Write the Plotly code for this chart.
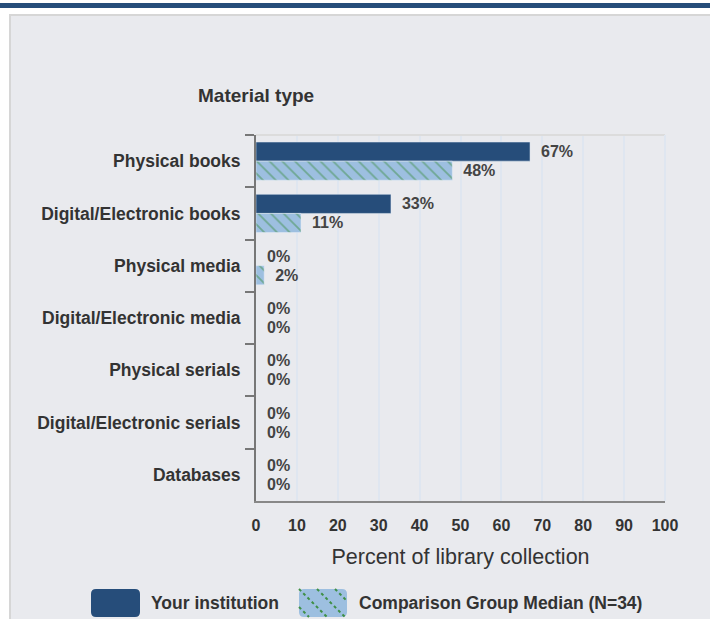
import plotly.graph_objects as go

# data
categories = [
    "Physical books",
    "Digital/Electronic books",
    "Physical media",
    "Digital/Electronic media",
    "Physical serials",
    "Digital/Electronic serials",
    "Databases",
]
your_institution = [67, 33, 0, 0, 0, 0, 0]
comparison_median = [48, 11, 2, 0, 0, 0, 0]
x_ticks = [0, 10, 20, 30, 40, 50, 60, 70, 80, 90, 100]

DARK = "#264d7a"
LIGHT = "#9dbfe0"
GREEN = "#3f8f45"
TEXT = "#333333"
FONT = "Liberation Sans, Arial, sans-serif"

W, H = 710, 619
L, R, T, B = 256, 45, 135, 118
PW, PH = W - L - R, H - T - B


def px(x):
    return (x - L) / PW


def py(y):
    return (H - B - y) / PH


fig = go.Figure()
fig.add_trace(go.Bar(
    y=categories, x=your_institution, orientation="h",
    name="Your institution", marker=dict(color=DARK),
    text=[f"\u2002{v}%" for v in your_institution], textposition="outside",
    textfont=dict(family=FONT, size=16, color="#444444", weight="bold"),
    cliponaxis=False,
))
fig.add_trace(go.Bar(
    y=categories, x=comparison_median, orientation="h",
    name="Comparison Group Median (N=34)",
    marker=dict(color=LIGHT, pattern=dict(
        shape="\\", fgcolor=GREEN, bgcolor=LIGHT, size=9, solidity=0.2)),
    text=[f"\u2002{v}%" for v in comparison_median], textposition="outside",
    textfont=dict(family=FONT, size=16, color="#444444", weight="bold"),
    cliponaxis=False,
))

shapes = [
    # page frame
    dict(type="rect", xref="paper", yref="paper", layer="below",
         x0=px(10), x1=px(730), y0=py(15), y1=py(640),
         fillcolor="#e9eaee", line=dict(color="#d6d6d6", width=2)),
    dict(type="rect", xref="paper", yref="paper", layer="below",
         x0=px(-10), x1=px(730), y0=py(3), y1=py(8),
         fillcolor=DARK, line=dict(width=0)),
    # plot borders
    dict(type="line", xref="paper", yref="paper", x0=0, x1=1, y0=1, y1=1,
         line=dict(color="#dcdcdc", width=2)),
    dict(type="line", xref="paper", yref="paper", x0=1, x1=1, y0=0, y1=1,
         line=dict(color="#dfe6f0", width=2)),
]


def rounded(x0, y0, x1, y1, r=5):
    a, b, c, d = px(x0), px(x1), py(y0), py(y1)
    rx, ry = r / PW, r / PH
    return (f"M {a+rx},{c} L {b-rx},{c} Q {b},{c} {b},{c-ry} "
            f"L {b},{d+ry} Q {b},{d} {b-rx},{d} L {a+rx},{d} "
            f"Q {a},{d} {a},{d+ry} L {a},{c-ry} Q {a},{c} {a+rx},{c} Z")


shapes.append(dict(type="path", xref="paper", yref="paper",
                   path=rounded(91, 589, 140, 617), fillcolor=DARK,
                   line=dict(width=0)))
shapes.append(dict(type="path", xref="paper", yref="paper",
                   path=rounded(299, 589, 347, 617), fillcolor=LIGHT,
                   line=dict(width=0)))
sx0, sy0, sw, sh = 299, 589, 48, 28
for off in [-18, 0, 18, 36]:
    t0, t1 = max(0, -off), min(sh, sw - off)
    if t1 - t0 < 3:
        continue
    shapes.append(dict(
        type="line", xref="paper", yref="paper",
        x0=px(sx0 + off + t0), y0=py(sy0 + t0),
        x1=px(sx0 + off + t1), y1=py(sy0 + t1),
        line=dict(color=GREEN, width=2, dash="dot")))

annotations = [
    dict(text="<b>Material type</b>", xref="paper", yref="paper",
         x=0, y=py(95), xanchor="center", yanchor="middle", showarrow=False,
         font=dict(family=FONT, size=19, color=TEXT)),
    dict(text="Your institution", xref="paper", yref="paper",
         x=px(149), y=py(603), xanchor="left", yanchor="middle",
         showarrow=False,
         font=dict(family=FONT, size=17.5, color=TEXT, weight="bold")),
    dict(text="Comparison Group Median (N=34)", xref="paper", yref="paper",
         x=px(357), y=py(603), xanchor="left", yanchor="middle",
         showarrow=False,
         font=dict(family=FONT, size=17.5, color=TEXT, weight="bold")),
]

fig.update_layout(
    width=W, height=H,
    margin=dict(l=L, r=R, t=T, b=B, autoexpand=False),
    paper_bgcolor="white", plot_bgcolor="#f5f5f5",
    barmode="group", bargap=0.27, bargroupgap=0,
    showlegend=False,
    font=dict(family=FONT, color=TEXT),
    shapes=shapes, annotations=annotations,
)
fig.update_xaxes(
    range=[0, 100], tickvals=x_ticks, showgrid=True,
    gridcolor="#dfe6f0", gridwidth=2, zeroline=False,
    showline=True, linecolor="#888888", linewidth=2,
    ticks="", ticklabelstandoff=9,
    tickfont=dict(family=FONT, size=16, color=TEXT, weight="bold"),
    title=dict(text="Percent of library collection", standoff=16,
               font=dict(family=FONT, size=21.5, color=TEXT)),
    fixedrange=True,
)
fig.update_yaxes(
    categoryorder="array", categoryarray=categories, autorange="reversed",
    showline=True, linecolor="#777777", linewidth=2,
    ticks="outside", tickson="boundaries", ticklen=9, tickwidth=2,
    tickcolor="#777777", showgrid=False, ticklabelstandoff=10,
    tickfont=dict(family=FONT, size=17.5, color=TEXT, weight="bold"),
    fixedrange=True,
)

fig.write_html("out.html", config={"displayModeBar": False},
               post_script="document.body.style.margin='0';")
